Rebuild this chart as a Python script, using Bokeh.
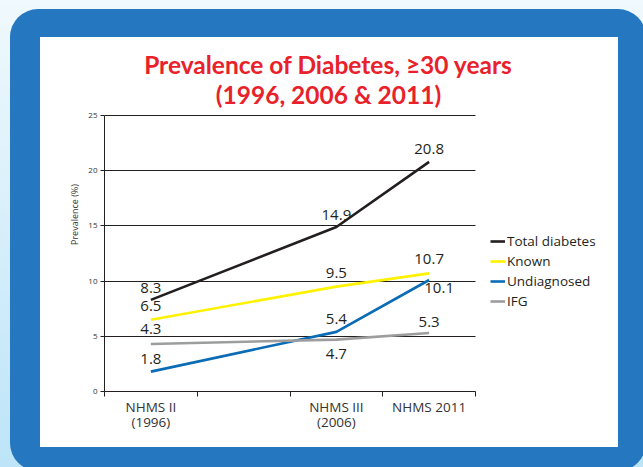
from urllib.parse import quote
from bokeh.plotting import figure
from bokeh.models import (ColumnDataSource, FixedTicker, Legend, LegendItem, Label)
from bokeh.embed import file_html
from bokeh.resources import INLINE

# ---------------- data ----------------
slots = ["NHMS II\n(1996)", " ", "NHMS III\n(2006)", "NHMS 2011"]
surveys = ["NHMS II\n(1996)", "NHMS III\n(2006)", "NHMS 2011"]
series_names = ["Total diabetes", "Known", "Undiagnosed", "IFG"]
total = [8.3, 14.9, 20.8]
known = [6.5, 9.5, 10.7]
undiagnosed = [1.8, 5.4, 10.1]
ifg = [4.3, 4.7, 5.3]
y_ticks = [0, 5, 10, 15, 20, 25]
title_lines = ["Prevalence of Diabetes, \u226530 years", "(1996, 2006 & 2011)"]
y_label = "Prevalence (%)"

# ---------------- layout / styles ----------------
W, H = 643, 467
PLOT_L, PLOT_R, PLOT_T, PLOT_B = 104, 475, 115, 391      # chart area (pixels)
FRAME_R, FRAME_T = 618, 37                               # frame reaches the white panel edges
TITLE_X, TITLE_Y = [328, 328], [64, 94]                  # title anchor points (pixels from top-left)
colors = ["#231f20", "#fff200", "#0b6cb6", "#9d9d9d"]
# pixel offsets (dx, dy) of the value labels, per series and point
label_offsets = [
    [(0, -12), (0, -12), (0, -13)],
    [(0, -14), (0, -14), (0, -14)],
    [(0, -13), (0, -13), (10, 8)],
    [(0, -15), (0, 14), (0, -11)],
]
FONT = "Open Sans"
INK = "#231f20"

bg_svg = (
    "<svg xmlns='http://www.w3.org/2000/svg' width='643' height='467'>"
    "<defs><linearGradient id='g' x1='0' y1='0' x2='0' y2='1'>"
    "<stop offset='0' stop-color='#f0f9fd'/><stop offset='1' stop-color='#bde4f8'/>"
    "</linearGradient></defs>"
    "<rect width='643' height='467' fill='url(#g)'/>"
    "<rect x='10' y='9' width='636' height='462' rx='28' ry='28' fill='#2577c0'/>"
    "<rect x='40' y='37' width='578' height='410' fill='#ffffff'/>"
    "</svg>"
)
bg_css = {
    "background-image": 'url("data:image/svg+xml,' + quote(bg_svg) + '")',
    "background-repeat": "no-repeat",
    "background-size": "643px 467px",
}

series = [total, known, undiagnosed, ifg]
xs = [slots.index(s) + 0.5 for s in surveys]

n = len(slots)
x_end = n * (FRAME_R - PLOT_L) / (PLOT_R - PLOT_L)
y0, y1 = y_ticks[0], y_ticks[-1]
y_end = y0 + (y1 - y0) * (PLOT_B - FRAME_T) / (PLOT_B - PLOT_T)

p = figure(width=W, height=H, x_range=(0, x_end), y_range=(y0, y_end),
           toolbar_location=None, output_backend="svg",
           min_border_left=PLOT_L, min_border_right=W - FRAME_R,
           min_border_top=FRAME_T, min_border_bottom=H - PLOT_B,
           border_fill_color=None, background_fill_color=None, outline_line_color=None,
           styles=bg_css)

# axes
p.yaxis.bounds = (y0, y1)
p.yaxis.ticker = FixedTicker(ticks=y_ticks)
p.yaxis.major_tick_out = 4
p.yaxis.major_tick_in = 0
p.yaxis.minor_tick_out = 0
p.yaxis.axis_line_color = INK
p.yaxis.major_tick_line_color = INK
p.yaxis.major_label_text_font = FONT
p.yaxis.major_label_text_font_size = "8px"
p.yaxis.major_label_text_color = "#333333"
p.yaxis.major_label_standoff = 3
p.yaxis.axis_label = y_label
p.yaxis.axis_label_text_font = FONT
p.yaxis.axis_label_text_font_size = "9px"
p.yaxis.axis_label_text_font_style = "normal"
p.yaxis.axis_label_text_color = "#333333"
p.yaxis.axis_label_standoff = 4

p.ygrid.ticker = FixedTicker(ticks=y_ticks)
p.ygrid.cross_bounds = (0, n)
p.ygrid.grid_line_color = INK
p.ygrid.grid_line_width = 1
p.xgrid.grid_line_color = None

centers = [i + 0.5 for i in range(n)]
p.xaxis.bounds = (0, n)
p.xaxis.ticker = FixedTicker(ticks=centers, minor_ticks=list(range(n + 1)))
p.xaxis.major_label_overrides = {c: s for c, s in zip(centers, slots)}
p.xaxis.major_tick_out = 0
p.xaxis.major_tick_in = 0
p.xaxis.minor_tick_out = 5
p.xaxis.minor_tick_in = 0
p.xaxis.minor_tick_line_color = INK
p.xaxis.axis_line_color = INK
p.xaxis.major_label_text_font = FONT
p.xaxis.major_label_text_font_size = "13.5px"
p.xaxis.major_label_text_color = "#333333"
p.xaxis.major_label_text_line_height = 0.85
p.xaxis.major_label_standoff = 1

# lines and value labels
items = []
for name, vals, col, offs in zip(series_names, series, colors, label_offsets):
    r = p.line(xs, vals, line_color=col, line_width=2.6)
    items.append(LegendItem(label=name, renderers=[r]))
    src = ColumnDataSource(dict(x=xs, y=vals, t=[f"{v:.1f}" for v in vals],
                                dx=[o[0] for o in offs], dy=[o[1] for o in offs]))
    p.text(x="x", y="y", text="t", x_offset="dx", y_offset="dy", source=src,
           text_align="center", text_baseline="alphabetic",
           text_font_size="15px", text_color=INK, text_font={"value": FONT})

legend = Legend(items=items, location=(490 - PLOT_L, PLOT_B - 311), glyph_width=15, glyph_height=20,
                label_height=20, label_standoff=2, spacing=0, padding=0, margin=0,
                border_line_color=None, background_fill_alpha=0, label_text_font=FONT,
                label_text_font_size="13.5px", label_text_color=INK)
p.add_layout(legend)

# title (screen units measured from the frame's bottom-left corner)
for line, tx, ty in zip(title_lines, TITLE_X, TITLE_Y):
    p.add_layout(Label(x=tx - PLOT_L, y=PLOT_B - ty, x_units="screen", y_units="screen", text=line,
                       text_align="center", text_baseline="alphabetic",
                       text_font="Lato", text_font_style="bold", text_font_size="24.5px",
                       text_color="#e8212a"))

open("out.html", "w").write(file_html(p, INLINE))
